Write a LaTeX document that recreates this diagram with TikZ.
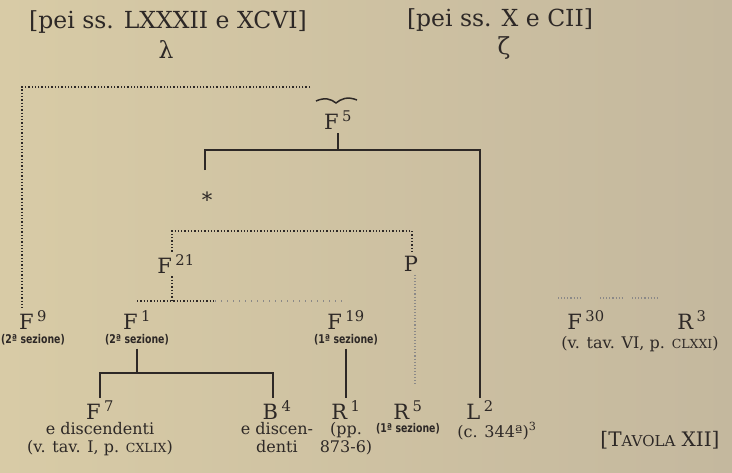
\documentclass[tikz,border=0pt]{standalone}
\usepackage{fontspec}
\setmainfont{DejaVu Serif}
\newfontfamily\sezfont{DejaVu Sans}[FakeStretch=0.78]
\usetikzlibrary{positioning}

\definecolor{paperL}{RGB}{216,203,166}
\definecolor{paperR}{RGB}{196,184,158}
\definecolor{ink}{RGB}{45,40,38}
\newcommand{\siglum}[2]{#1\,\textsuperscript{#2}}
\newcommand{\smallcap}[1]{{\fontsize{12.5}{13}\selectfont #1}}

\begin{document}
\begin{tikzpicture}[x=1pt,y=-1pt,
    every node/.style={text=ink, inner sep=0pt},
    head/.style={font=\fontsize{23.5}{25}\selectfont},
    ms/.style={font=\fontsize{21}{22}\selectfont, inner sep=3pt},
    note/.style={font=\fontsize{16}{17.5}\selectfont, align=center},
    sez/.style={font=\sezfont\bfseries\fontsize{12}{13}\selectfont},
    plain/.style={draw=ink, line width=2.8pt},
    dots/.style={draw=ink, line width=1.3pt, dotted},
    faint/.style={draw=ink!55, line width=1.1pt, dotted}
  ]
  \shade[left color=paperL, right color=paperR] (0,0) rectangle (732,472);
  \useasboundingbox (0,0) rectangle (732,472);

  % headings
  \node[head] (lhead) at (168,22) {[pei ss. LXXXII e XCVI]};
  \node[head] (lambda) at (166,50) {λ};
  \node[head] (rhead) at (500,20) {[pei ss. X e CII]};
  \node[head] (zeta) at (504,48) {ζ};

  % manuscripts
  \node[ms] (f5) at (338,120) {\siglum{F}{5}};
  \node[ms] (star) at (207,200) {*};
  \node[ms] (f21) at (176,264) {\siglum{F}{21}};
  \node[ms] (p) at (411,264) {P};
  \node[ms] (f9) at (33,320) {\siglum{F}{9}};
  \node[sez, below=2pt of f9] (f9 sez) {(2ª sezione)};
  \node[ms] (f1) at (137,320) {\siglum{F}{1}};
  \node[sez, below=2pt of f1] (f1 sez) {(2ª sezione)};
  \node[ms] (f19) at (346,320) {\siglum{F}{19}};
  \node[sez, below=2pt of f19] (f19 sez) {(1ª sezione)};
  \node[ms] (f30) at (586,320) {\siglum{F}{30}};
  \node[ms] (r3) at (692,320) {\siglum{R}{3}};
  \node[note] (tav6) at (640,344) {(v. tav. VI, p. \smallcap{CLXXI})};
  \node[ms] (f7) at (100,410) {\siglum{F}{7}};
  \node[note, below=0pt of f7] (f7 note) {e discendenti\\(v. tav. I, p. \smallcap{CXLIX})};
  \node[ms] (b4) at (277,410) {\siglum{B}{4}};
  \node[note, below=0pt of b4] (b4 note) {e discen-\\denti};
  \node[ms] (r1) at (346,410) {\siglum{R}{1}};
  \node[note, below=0pt of r1] (r1 note) {(pp.\\873-6)};
  \node[ms] (r5) at (408,410) {\siglum{R}{5}};
  \node[sez, below=1pt of r5] (r5 sez) {(1ª sezione)};
  \node[ms] (l2) at (480,410) {\siglum{L}{2}};
  \node[note, below=0pt of l2.south west, anchor=north west, xshift=-6pt] (l2 note)
    {(c. 344ª)\textsuperscript{3}};
  \node[head, font=\fontsize{20}{22}\selectfont] (tavola) at (660,440)
    {[T{\fontsize{15}{16}\selectfont AVOLA} XII]};

  % corners
  \coordinate (lam l) at (22,87);
  \coordinate (lam r) at (310,87);
  \coordinate (bar l) at (205,150);
  \coordinate (bar r) at (480,150);
  \coordinate (star top) at (205,170);
  \coordinate (fp l) at (172,231);
  \coordinate (fp r) at (412,231);
  \coordinate (low l) at (137,301);
  \coordinate (low m) at (215,301);
  \coordinate (low r) at (345,301);
  \coordinate (sez bar l) at (100,373);
  \coordinate (sez bar r) at (273,373);

  % tilde over F5
  \draw[ink, line width=1.5pt]
    (316,101) .. controls (325,97) and (331,99) .. (336,103)
    .. controls (341,99) and (347,96) .. (357,100);

  % solid lines
  \draw[plain] ([yshift=-1pt]f5.south) -- (f5.south |- bar l);
  \draw[plain] (star top) -- (bar l) -- (bar r) -- (l2.north);
  \draw[plain] ([yshift=-3pt]f1 sez.south -| f1) -- (f1 |- sez bar l);
  \draw[plain] (f7.north) -- (f7.north |- sez bar l) -- (sez bar r) -- (sez bar r |- b4.north);
  \draw[plain] ([yshift=-3pt]f19 sez.south) -- (f19 sez.south |- r1.north);

  % dotted lines
  \draw[dots] (lam r) -- (lam l) -- (f9.north -| lam l);
  \draw[dots] (f21.north -| fp l) -- (fp l) -- (fp r) -- (p.north -| fp r);
  \draw[dots] (f21.south -| fp l) -- (fp l |- low l);
  \draw[dots] (low l) -- (low m);
  \draw[faint, dash pattern=on 1pt off 5pt] (low m) -- (low r);
  \draw[faint, shorten >=12pt] ([xshift=4pt]p.south) -- ([xshift=4pt]p.south |- r5.north);
  \foreach \a/\b in {558/580, 600/622, 632/658}
    \draw[faint] (\a,298) -- (\b,298);
\end{tikzpicture}
\end{document}
